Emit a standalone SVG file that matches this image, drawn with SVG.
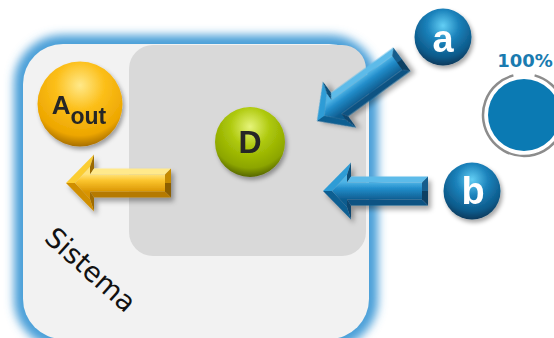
<svg xmlns="http://www.w3.org/2000/svg" width="554" height="338" viewBox="0 0 554 338">
<style>
.lbl{font-family:"Liberation Sans",Arial,sans-serif;font-weight:bold;text-anchor:middle}
.dark{fill:#262626}
.white{fill:#ffffff}
</style>
<defs>
<filter id="glow" x="-20%" y="-20%" width="140%" height="140%"><feGaussianBlur stdDeviation="5"/></filter>
<filter id="shadow" x="-30%" y="-30%" width="160%" height="160%"><feDropShadow dx="2" dy="3" stdDeviation="2" flood-color="#000" flood-opacity="0.35"/></filter>
<filter id="ashadow" x="-30%" y="-40%" width="160%" height="180%"><feDropShadow dx="3" dy="4" stdDeviation="2.5" flood-color="#000" flood-opacity="0.35"/></filter>
<radialGradient id="gBlue" cx="50%" cy="30%" r="70%">
<stop offset="0" stop-color="#63cff5"/><stop offset="0.4" stop-color="#1b82bb"/><stop offset="0.8" stop-color="#0d5a8a"/><stop offset="1" stop-color="#0a3a5c"/>
</radialGradient>
<radialGradient id="gYellow" cx="50%" cy="28%" r="72%">
<stop offset="0" stop-color="#ffe98a"/><stop offset="0.4" stop-color="#fcbf1a"/><stop offset="0.82" stop-color="#eda600"/><stop offset="1" stop-color="#a86f00"/>
</radialGradient>
<radialGradient id="gGreen" cx="50%" cy="28%" r="72%">
<stop offset="0" stop-color="#e6f47a"/><stop offset="0.4" stop-color="#adc80a"/><stop offset="0.82" stop-color="#8ca500"/><stop offset="1" stop-color="#566600"/>
</radialGradient>
<linearGradient id="fBlue" x1="0" y1="-9" x2="0" y2="9" gradientUnits="userSpaceOnUse">
<stop offset="0" stop-color="#4fb4e6"/><stop offset="0.35" stop-color="#238ecb"/><stop offset="1" stop-color="#0e5b8e"/>
</linearGradient>
<linearGradient id="fYellow" x1="0" y1="-9" x2="0" y2="9" gradientUnits="userSpaceOnUse">
<stop offset="0" stop-color="#ffe47e"/><stop offset="0.35" stop-color="#fcc630"/><stop offset="1" stop-color="#d99400"/>
</linearGradient>
<g id="arrowB">
<polygon points="0,0 28,-28.5 24,-16 9,0" fill="#2f9cd6"/>
<polygon points="28,-28.5 28,-14.5 24,-8.5 24,-16" fill="#0d4f7a"/>
<polygon points="28,-14.5 105,-14.5 99,-8.5 24,-8.5" fill="#5dbbe9"/>
<polygon points="105,-14.5 105,0 99,0 99,-8.5" fill="#135d8c"/>
<polygon points="105,0 105,14.5 99,8.5 99,0" fill="#0a3f63"/>
<polygon points="105,14.5 28,14.5 24,8.5 99,8.5" fill="#0b5283"/>
<polygon points="28,14.5 28,28.5 24,16 24,8.5" fill="#0a4670"/>
<polygon points="28,28.5 0,0 9,0 24,16" fill="#0f5f92"/>
<polygon points="9,0 24,-16 24,-8.5 99,-8.5 99,8.5 24,8.5 24,16" fill="url(#fBlue)"/>
</g>
<g id="arrowY">
<polygon points="0,0 28,-28.5 24,-16 9,0" fill="#fbcd33"/>
<polygon points="28,-28.5 28,-14.5 24,-8.5 24,-16" fill="#9b6a00"/>
<polygon points="28,-14.5 105,-14.5 99,-8.5 24,-8.5" fill="#ffe98c"/>
<polygon points="105,-14.5 105,0 99,0 99,-8.5" fill="#c58a00"/>
<polygon points="105,0 105,14.5 99,8.5 99,0" fill="#8c5e00"/>
<polygon points="105,14.5 28,14.5 24,8.5 99,8.5" fill="#b57a00"/>
<polygon points="28,14.5 28,28.5 24,16 24,8.5" fill="#a06c00"/>
<polygon points="28,28.5 0,0 9,0 24,16" fill="#d08f00"/>
<polygon points="9,0 24,-16 24,-8.5 99,-8.5 99,8.5 24,8.5 24,16" fill="url(#fYellow)"/>
</g>
</defs>
<rect width="554" height="338" fill="#ffffff"/>
<g id="sistema">
<rect x="23" y="44" width="346" height="295" rx="40" fill="none" stroke="#4a9fd8" stroke-width="18" filter="url(#glow)"/>
<rect x="23" y="44" width="346" height="295" rx="40" fill="#f2f2f2"/>
<text x="0" y="0" transform="translate(43,240) rotate(41.7)" font-family="'DejaVu Sans',sans-serif" font-size="27.5" fill="#111">Sistema</text>
</g>
<g id="interno">
<rect x="129" y="45" width="237" height="211" rx="24" fill="#d9d9d9"/>
</g>
<g id="connectors">
<use href="#arrowY" transform="translate(66,183)" filter="url(#ashadow)"/>
<use href="#arrowB" transform="translate(317,121) rotate(-36)" filter="url(#ashadow)"/>
<use href="#arrowB" transform="translate(323,191)" filter="url(#ashadow)"/>
</g>
<g id="node-aout" filter="url(#shadow)">
<circle cx="80" cy="104" r="42.5" fill="url(#gYellow)"/>
<text class="lbl dark" x="79" y="114" font-size="26"><tspan>A</tspan><tspan font-size="23" dy="10">out</tspan></text>
</g>
<g id="node-d" filter="url(#shadow)">
<circle cx="250" cy="142" r="35" fill="url(#gGreen)"/>
<text class="lbl dark" x="250" y="153" font-size="32">D</text>
</g>
<g id="node-a" filter="url(#shadow)">
<circle cx="443" cy="37" r="28.5" fill="url(#gBlue)"/>
<text class="lbl white" x="443" y="52" font-size="38">a</text>
</g>
<g id="node-b" filter="url(#shadow)">
<circle cx="472" cy="191" r="28.5" fill="url(#gBlue)"/>
<text class="lbl white" x="473" y="204" font-size="38">b</text>
</g>
<g id="pct">
<text x="525" y="67" font-family="'DejaVu Sans',sans-serif" font-weight="bold" font-size="18" text-anchor="middle" fill="#1a7bb0">100%</text>
<path d="M534.6,75.4 A41,41 0 1 1 513.4,75.4" fill="none" stroke="#8c8c8c" stroke-width="2.5"/>
<circle cx="524" cy="115" r="36" fill="#0b7ab3"/>
</g>
</svg>
